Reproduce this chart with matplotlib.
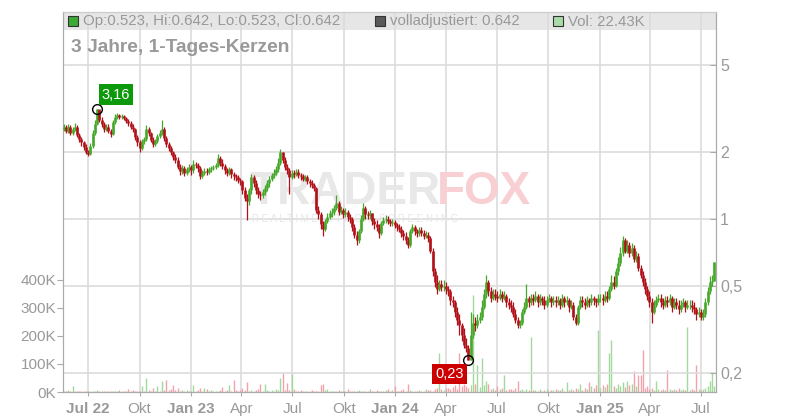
import numpy as np
import pandas as pd
import matplotlib
matplotlib.use('Agg')
import matplotlib.pyplot as plt
from matplotlib.patches import Rectangle
from matplotlib.ticker import NullLocator

plt.rcParams['font.family'] = ['Liberation Sans', 'DejaVu Sans']

first_open = 2.55
close = [
    2.60, 2.50, 2.62, 2.45, 2.55, 2.62, 2.40, 2.30, 2.22, 2.12,
    2.00, 1.97, 2.15, 2.45, 2.70, 3.16, 2.80, 2.70, 2.55, 2.62,
    2.50, 2.42, 2.75, 2.90, 2.95, 2.88, 2.92, 2.85, 2.78, 2.72,
    2.62, 2.55, 2.35, 2.22, 2.10, 2.25, 2.30, 2.55, 2.45, 2.28,
    2.18, 2.25, 2.38, 2.45, 2.55, 2.32, 2.18, 2.10, 2.00, 1.90,
    1.85, 1.72, 1.65, 1.70, 1.62, 1.68, 1.72, 1.66, 1.78, 1.76,
    1.70, 1.56, 1.62, 1.65, 1.63, 1.68, 1.70, 1.72, 1.75, 1.88,
    1.80, 1.74, 1.66, 1.62, 1.68, 1.60, 1.56, 1.55, 1.50, 1.48,
    1.35, 1.25, 1.20, 1.35, 1.55, 1.45, 1.35, 1.30, 1.28, 1.32,
    1.38, 1.45, 1.52, 1.58, 1.62, 1.68, 1.80, 2.00, 1.85, 1.72,
    1.66, 1.55, 1.62, 1.60, 1.64, 1.58, 1.56, 1.52, 1.55, 1.48,
    1.45, 1.42, 1.38, 1.10, 1.05, 0.95, 0.90, 0.98, 1.02, 1.06,
    1.08, 1.12, 1.18, 1.08, 1.10, 1.05, 1.08, 1.02, 1.00, 0.92,
    0.85, 0.80, 0.88, 1.00, 1.12, 1.05, 1.04, 1.06, 0.98, 0.95,
    0.92, 0.86, 0.96, 0.99, 1.00, 0.98, 0.96, 0.97, 0.94, 0.92,
    0.90, 0.86, 0.84, 0.80, 0.76, 0.88, 0.92, 0.88, 0.86, 0.89,
    0.86, 0.84, 0.85, 0.82, 0.72, 0.58, 0.52, 0.48, 0.51, 0.49,
    0.50, 0.48, 0.47, 0.43, 0.42, 0.38, 0.35, 0.33, 0.30, 0.27,
    0.26, 0.23, 0.30, 0.34, 0.33, 0.35, 0.36, 0.40, 0.46, 0.52,
    0.47, 0.44, 0.46, 0.45, 0.44, 0.46, 0.44, 0.45, 0.42, 0.41,
    0.40, 0.37, 0.35, 0.33, 0.34, 0.38, 0.40, 0.44, 0.42, 0.44,
    0.43, 0.45, 0.42, 0.44, 0.43, 0.41, 0.43, 0.44, 0.42, 0.43,
    0.42, 0.43, 0.41, 0.44, 0.42, 0.43, 0.40, 0.41, 0.36, 0.34,
    0.40, 0.43, 0.42, 0.41, 0.43, 0.42, 0.44, 0.43, 0.42, 0.44,
    0.44, 0.43, 0.45, 0.44, 0.48, 0.52, 0.50, 0.58, 0.63, 0.70,
    0.80, 0.72, 0.76, 0.70, 0.74, 0.66, 0.68, 0.60, 0.56, 0.52,
    0.48, 0.45, 0.42, 0.38, 0.41, 0.43, 0.44, 0.42, 0.41, 0.43,
    0.42, 0.44, 0.40, 0.42, 0.41, 0.39, 0.41, 0.42, 0.40, 0.41,
    0.41, 0.40, 0.39, 0.37, 0.38, 0.36, 0.37, 0.42, 0.47, 0.52,
    0.523, 0.642,
]
high = [
    2.68, 2.66, 2.70, 2.66, 2.60, 2.72, 2.66, 2.46, 2.36, 2.26,
    2.18, 2.06, 2.20, 2.52, 2.80, 3.16, 3.10, 2.90, 2.76, 2.70,
    2.68, 2.56, 2.80, 2.98, 3.02, 3.00, 2.98, 2.96, 2.90, 2.82,
    2.78, 2.70, 2.58, 2.40, 2.28, 2.30, 2.36, 2.66, 2.60, 2.48,
    2.34, 2.30, 2.42, 2.52, 2.80, 2.60, 2.38, 2.24, 2.14, 2.04,
    1.96, 1.90, 1.78, 1.76, 1.74, 1.72, 1.78, 1.76, 1.84, 1.82,
    1.80, 1.74, 1.66, 1.70, 1.70, 1.72, 1.74, 1.76, 1.80, 1.96,
    1.92, 1.86, 1.78, 1.70, 1.72, 1.70, 1.64, 1.60, 1.58, 1.54,
    1.50, 1.40, 1.30, 1.38, 1.60, 1.58, 1.50, 1.40, 1.34, 1.36,
    1.42, 1.50, 1.56, 1.62, 1.68, 1.74, 1.88, 2.08, 2.02, 1.90,
    1.78, 1.70, 1.66, 1.66, 1.68, 1.68, 1.62, 1.60, 1.58, 1.58,
    1.52, 1.50, 1.46, 1.40, 1.14, 1.08, 0.98, 1.00, 1.06, 1.10,
    1.12, 1.16, 1.28, 1.20, 1.14, 1.12, 1.12, 1.10, 1.05, 1.02,
    0.95, 0.88, 0.90, 1.04, 1.18, 1.14, 1.09, 1.10, 1.06, 1.01,
    0.99, 0.95, 0.98, 1.02, 1.04, 1.03, 1.00, 1.00, 0.99, 0.96,
    0.95, 0.93, 0.89, 0.87, 0.83, 0.90, 0.95, 0.94, 0.90, 0.92,
    0.92, 0.89, 0.88, 0.87, 0.84, 0.74, 0.60, 0.56, 0.53, 0.53,
    0.53, 0.52, 0.50, 0.48, 0.45, 0.43, 0.40, 0.37, 0.34, 0.32,
    0.29, 0.27, 0.38, 0.37, 0.36, 0.37, 0.38, 0.43, 0.48, 0.56,
    0.53, 0.49, 0.48, 0.48, 0.47, 0.48, 0.47, 0.47, 0.46, 0.44,
    0.43, 0.42, 0.39, 0.36, 0.35, 0.39, 0.42, 0.51, 0.45, 0.46,
    0.46, 0.47, 0.46, 0.46, 0.45, 0.45, 0.45, 0.46, 0.45, 0.45,
    0.45, 0.45, 0.44, 0.46, 0.45, 0.45, 0.44, 0.43, 0.42, 0.37,
    0.41, 0.45, 0.45, 0.44, 0.45, 0.44, 0.46, 0.45, 0.44, 0.46,
    0.46, 0.46, 0.47, 0.47, 0.50, 0.56, 0.55, 0.60, 0.67, 0.75,
    0.84, 0.82, 0.80, 0.79, 0.78, 0.76, 0.72, 0.70, 0.62, 0.58,
    0.54, 0.50, 0.47, 0.44, 0.43, 0.45, 0.46, 0.46, 0.44, 0.45,
    0.45, 0.46, 0.45, 0.44, 0.44, 0.43, 0.43, 0.44, 0.43, 0.43,
    0.43, 0.43, 0.42, 0.40, 0.40, 0.39, 0.39, 0.44, 0.49, 0.55,
    0.56, 0.642,
]
low = [
    2.50, 2.44, 2.46, 2.40, 2.40, 2.50, 2.34, 2.24, 2.14, 2.06,
    1.96, 1.93, 1.94, 2.10, 2.40, 2.66, 2.74, 2.60, 2.48, 2.50,
    2.44, 2.34, 2.40, 2.70, 2.84, 2.82, 2.84, 2.80, 2.72, 2.64,
    2.56, 2.48, 2.28, 2.14, 2.02, 2.06, 2.18, 2.26, 2.38, 2.22,
    2.12, 2.14, 2.20, 2.32, 2.40, 2.26, 2.12, 2.04, 1.94, 1.84,
    1.80, 1.68, 1.58, 1.60, 1.56, 1.58, 1.64, 1.58, 1.62, 1.70,
    1.64, 1.52, 1.53, 1.58, 1.58, 1.60, 1.64, 1.66, 1.68, 1.72,
    1.74, 1.68, 1.60, 1.56, 1.58, 1.54, 1.50, 1.48, 1.45, 1.42,
    1.30, 1.20, 0.99, 1.16, 1.30, 1.40, 1.30, 1.25, 1.22, 1.24,
    1.28, 1.34, 1.40, 1.48, 1.54, 1.58, 1.64, 1.76, 1.80, 1.66,
    1.60, 1.30, 1.52, 1.54, 1.56, 1.54, 1.50, 1.48, 1.48, 1.44,
    1.40, 1.38, 1.34, 1.06, 1.00, 0.90, 0.84, 0.88, 0.96, 1.00,
    1.02, 1.04, 1.10, 1.04, 1.05, 1.01, 1.02, 0.98, 0.96, 0.88,
    0.82, 0.76, 0.78, 0.86, 0.98, 1.00, 1.00, 1.00, 0.94, 0.90,
    0.88, 0.82, 0.85, 0.94, 0.96, 0.95, 0.93, 0.93, 0.91, 0.88,
    0.87, 0.83, 0.80, 0.77, 0.74, 0.75, 0.86, 0.85, 0.83, 0.84,
    0.84, 0.81, 0.82, 0.79, 0.70, 0.55, 0.49, 0.46, 0.47, 0.47,
    0.47, 0.46, 0.45, 0.41, 0.40, 0.36, 0.33, 0.30, 0.28, 0.26,
    0.25, 0.23, 0.23, 0.29, 0.31, 0.32, 0.34, 0.35, 0.39, 0.44,
    0.45, 0.42, 0.43, 0.43, 0.42, 0.43, 0.42, 0.43, 0.40, 0.39,
    0.38, 0.36, 0.34, 0.32, 0.32, 0.33, 0.37, 0.39, 0.40, 0.41,
    0.41, 0.42, 0.40, 0.41, 0.41, 0.39, 0.40, 0.42, 0.40, 0.41,
    0.40, 0.41, 0.39, 0.40, 0.40, 0.41, 0.38, 0.39, 0.35, 0.33,
    0.33, 0.39, 0.40, 0.39, 0.40, 0.40, 0.41, 0.41, 0.40, 0.41,
    0.42, 0.41, 0.42, 0.42, 0.43, 0.47, 0.48, 0.49, 0.56, 0.61,
    0.68, 0.70, 0.70, 0.67, 0.68, 0.64, 0.64, 0.58, 0.54, 0.50,
    0.46, 0.43, 0.40, 0.34, 0.37, 0.40, 0.42, 0.40, 0.39, 0.40,
    0.40, 0.41, 0.38, 0.39, 0.39, 0.37, 0.38, 0.40, 0.38, 0.39,
    0.39, 0.38, 0.37, 0.35, 0.36, 0.35, 0.35, 0.36, 0.41, 0.46,
    0.50, 0.523,
]

# Volumen in Tausend
volume_k = [
    5, 3, 6, 4, 21, 3, 5, 2, 4, 3,
    4, 3, 2, 5, 3, 6, 4, 3, 2, 4,
    3, 5, 2, 4, 3, 6, 3, 2, 5, 12,
    4, 6, 3, 5, 2, 20, 4, 50, 6, 3,
    15, 4, 20, 5, 40, 6, 43, 8, 10, 25,
    7, 15, 5, 8, 4, 6, 3, 5, 25, 4,
    6, 15, 5, 15, 9, 4, 6, 3, 5, 4,
    6, 18, 4, 7, 25, 5, 43, 6, 4, 8,
    15, 6, 37, 5, 8, 4, 6, 9, 30, 5,
    28, 6, 4, 8, 5, 12, 6, 50, 68, 8,
    32, 7, 63, 12, 5, 3, 6, 4, 5, 3,
    4, 6, 3, 5, 4, 25, 28, 6, 12, 4,
    3, 5, 4, 6, 3, 5, 4, 10, 3, 5,
    4, 3, 6, 4, 5, 3, 4, 10, 5, 3,
    6, 4, 5, 3, 8, 12, 5, 6, 20, 4,
    5, 7, 10, 4, 30, 6, 3, 5, 4, 6,
    4, 5, 12, 6, 8, 5, 10, 15, 140, 12,
    8, 14, 15, 10, 18, 25, 12, 140, 20, 30,
    20, 15, 25, 346, 30, 95, 18, 120, 25, 40,
    30, 12, 15, 8, 20, 10, 14, 60, 8, 12,
    10, 6, 15, 40, 8, 10, 5, 12, 8, 196,
    6, 8, 5, 10, 4, 7, 12, 5, 8, 6,
    10, 6, 8, 14, 5, 35, 8, 12, 6, 15,
    10, 30, 8, 15, 12, 35, 20, 14, 25, 220,
    15, 25, 18, 30, 140, 186, 22, 15, 28, 20,
    35, 18, 40, 25, 30, 75, 20, 60, 60, 150,
    15, 20, 10, 14, 8, 40, 12, 6, 10, 8,
    78, 10, 6, 12, 8, 14, 6, 10, 8, 232,
    6, 10, 8, 96, 12, 6, 10, 15, 20, 40,
    70, 22.43,
]

start_date = '2022-05-18'
tick_dates = ['2022-07-01', '2022-10-01', '2023-01-01', '2023-04-01', '2023-07-01',
              '2023-10-01', '2024-01-01', '2024-04-01', '2024-07-01', '2024-10-01',
              '2025-01-01', '2025-04-01', '2025-07-01']
tick_labels = ['Jul 22', 'Okt', 'Jan 23', 'Apr', 'Jul', 'Okt', 'Jan 24', 'Apr', 'Jul',
               'Okt', 'Jan 25', 'Apr', 'Jul']
price_ticks = [0.2, 0.5, 1, 2, 5]
price_labels = ['0,2', '0,5', '1', '2', '5']
vol_ticks_k = [0, 100, 200, 300, 400]

dates = pd.date_range(start_date, periods=len(close), freq='4D')
opens = [first_open] + close[:-1]
up = np.array(close) >= np.array(opens)
candle_colors = np.where(up, '#46a82a', '#b11018')
vol_colors = np.where(up, '#a3d99b', '#f0a3ab')

W, H = 800, 420
fig = plt.figure(figsize=(8, 4.2), dpi=100)


def fx(x):
    return x / W


def fy(y):
    return 1 - y / H


ax = fig.add_axes([fx(63), fy(392), (716 - 63) / W, (392 - 12) / H])
ax2 = ax.twinx()

# Volumen (linke Achse)
ax.vlines(dates, 0, np.array(volume_k) * 1000, colors=vol_colors, lw=1.0, zorder=2)
ax.set_ylim(0, 1357000)
ax.set_yticks([v * 1000 for v in vol_ticks_k], labels=[f'{v}K' for v in vol_ticks_k])
ax.set_xlim(pd.Timestamp('2022-05-17'), pd.Timestamp('2025-07-28'))
ax.set_xticks(pd.to_datetime(tick_dates), labels=tick_labels)
for lbl in ax.get_xticklabels():
    if ' ' in lbl.get_text():
        lbl.set_fontweight('bold')

# Kerzen (rechte Achse, log)
ax2.set_yscale('log')
ax2.set_ylim(0.1649, 8.64)
ax2.vlines(dates, low, high, colors=candle_colors, lw=0.9, zorder=3)
ax2.vlines(dates, opens, close, colors=candle_colors, lw=1.9, zorder=3)
ax2.set_yticks(price_ticks, labels=price_labels)
ax2.yaxis.set_minor_locator(NullLocator())

# Gitter
for d in tick_dates:
    ax.axvline(pd.Timestamp(d), color='#dcdcdc', lw=1.2, zorder=0.5)
for p in price_ticks:
    ax2.axhline(p, color='#dcdcdc', lw=1.2, zorder=0.5)

# Kopfzeile
ax.add_patch(Rectangle((0, (392 - 30) / 380), 1, 18 / 380, transform=ax.transAxes,
                       facecolor='#e6e6e6', edgecolor='none', zorder=0.3))

for a in (ax, ax2):
    for side in ('left', 'right', 'bottom'):
        a.spines[side].set_color('#aaaaaa')
    a.spines['top'].set_color('#cccccc')

ax.tick_params(axis='y', direction='out', length=4, color='#aaaaaa',
               labelcolor='#999999', labelsize=11, pad=1)
ax.tick_params(axis='x', direction='out', length=3, color='#aaaaaa',
               labelcolor='#999999', labelsize=11, pad=4)
ax2.tick_params(axis='y', direction='in', length=4, color='#aaaaaa',
                labelcolor='#999999', labelsize=11.5, pad=3)

# Wasserzeichen
ax2.text(fx(250), fy(192), 'TRADER', transform=fig.transFigure, fontsize=33,
         fontweight='bold', color='#e8e8e8', va='center', ha='left', zorder=1)
ax2.text(fx(437), fy(192), 'FOX', transform=fig.transFigure, fontsize=33,
         fontweight='bold', color='#f8d0d4', va='center', ha='left', zorder=1)
ax2.text(fx(252), fy(219), 'R E A L T I M E   S T O C K   S C R E E N I N G',
         transform=fig.transFigure, fontsize=7, color='#e6e6e6', va='center',
         ha='left', zorder=1)

# Hoch / Tief markieren
imax = int(np.argmax(high))
imin = int(np.argmin(low))
for i, val, off, col in [(imax, high[imax], (19, 14), '#0c990c'),
                         (imin, low[imin], (-19, -14), '#cc0000')]:
    ax2.plot(dates[i], val, 'o', mfc='none', mec='black', ms=7, mew=1, zorder=5)
    ax2.annotate(f'{val:.2f}'.replace('.', ','), xy=(dates[i], val),
                 xytext=off, textcoords='offset pixels', ha='center', va='center',
                 color='white', fontsize=10.5,
                 bbox=dict(boxstyle='square,pad=0.22', fc=col, ec='none'), zorder=6)

# Legende oben
legend_items = [
    (68, '#3aaa35', f'Op:{opens[-1]:.3f}, Hi:{high[-1]:.3f}, Lo:{low[-1]:.3f}, Cl:{close[-1]:.3f}'),
    (375, '#5a5a5a', f'volladjustiert: {close[-1]:.3f}'),
    (553, '#a8dba8', f'Vol: {volume_k[-1]:.2f}K'),
]
for x0, c, txt in legend_items:
    fig.add_artist(Rectangle((fx(x0), fy(26)), 10 / W, 10 / H, transform=fig.transFigure,
                             facecolor=c, edgecolor='#333333', lw=0.8))
    fig.text(fx(x0 + 15), fy(21.5), txt, fontsize=10.8, color='#999999', va='center')

fig.text(fx(71), fy(47.5), '3 Jahre, 1-Tages-Kerzen', fontsize=13.8,
         fontweight='bold', color='#999999', va='center')

fig.savefig('out.png', dpi=100)
